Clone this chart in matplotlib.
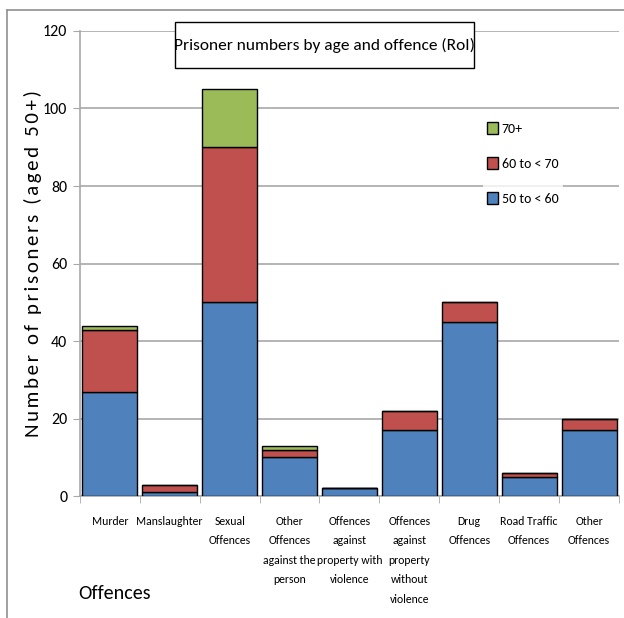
import matplotlib.pyplot as plt
import numpy as np
from matplotlib.lines import Line2D
from matplotlib.patches import Patch, Rectangle

plt.rcParams['font.family'] = ['Carlito', 'DejaVu Sans']

offences = ['Murder', 'Manslaughter', 'Sexual\nOffences',
            'Other\nOffences\nagainst the\nperson',
            'Offences\nagainst\nproperty with\nviolence',
            'Offences\nagainst\nproperty\nwithout\nviolence',
            'Drug\nOffences', 'Road Traffic\nOffences', 'Other\nOffences']
age_50_60 = [27, 1, 50, 10, 2, 17, 45, 5, 17]
age_60_70 = [16, 2, 40, 2, 0, 5, 5, 1, 3]
age_70 = [1, 0, 15, 1, 0, 0, 0, 0, 0]

blue = '#4F81BD'
red = '#C0504D'
green = '#9BBB59'
grey = '#a8a8a8'

fig = plt.figure(figsize=(6.24, 6.18), dpi=100)
ax = fig.add_axes([0.128, 0.197, 0.864, 0.753])

x = np.arange(len(offences))
w = 0.92
b1 = np.array(age_50_60)
b2 = b1 + np.array(age_60_70)
ax.bar(x, age_50_60, w, color=blue, edgecolor='black', linewidth=1, zorder=3)
ax.bar(x, age_60_70, w, bottom=b1, color=red, edgecolor='black', linewidth=1, zorder=3)
ax.bar(x, age_70, w, bottom=b2, color=green, edgecolor='black', linewidth=1, zorder=3)

ax.set_xlim(-0.5, len(offences) - 0.5)
ax.set_ylim(0, 120)
ax.set_yticks(range(0, 121, 20))
ax.yaxis.grid(True, color=grey, linewidth=1.2, zorder=0)
ax.tick_params(axis='y', labelsize=11.5, color=grey, length=5, pad=4)

ax.set_xticks(x)
ax.set_xticklabels(offences, fontsize=8.5, va='top', linespacing=1.95)
ax.tick_params(axis='x', length=0, pad=14)
ax.set_xticks(np.arange(-0.5, len(offences)), minor=True)
ax.tick_params(axis='x', which='minor', length=5, color=grey)

for s in ['top', 'right']:
    ax.spines[s].set_visible(False)
for s in ['left', 'bottom']:
    ax.spines[s].set_color(grey)
    ax.spines[s].set_linewidth(1.2)

# letter-spaced axis title
words = 'Number of prisoners (aged 50+)'.split(' ')
ylab = '\u200a \u200a'.join('\u200a'.join(wd) for wd in words)
ax.set_ylabel(ylab, fontsize=15)
ax.yaxis.set_label_coords(-0.07, 0.5)

fig.text(0.125, 0.04, 'Offences', fontsize=14.5, ha='left', va='center')

# title box sits over the top of the plot area
ax.add_patch(Rectangle((0.176, 0.920), 0.555, 0.099, transform=ax.transAxes,
                       facecolor='white', edgecolor='black', linewidth=1,
                       zorder=5, clip_on=False))
ax.text(0.4535, 0.968, 'Prisoner numbers by age and offence (RoI)', transform=ax.transAxes,
        fontsize=12.5, ha='center', va='center', zorder=6)

handles = [Patch(facecolor=green, edgecolor='black', label='70+'),
           Patch(facecolor=red, edgecolor='black', label='60 to < 70'),
           Patch(facecolor=blue, edgecolor='black', label='50 to < 60')]
leg = ax.legend(handles=handles, loc='upper left', bbox_to_anchor=(0.735, 0.828),
                frameon=True, fontsize=10, handlelength=0.75, handleheight=0.95,
                handletextpad=0.3, labelspacing=1.6, borderpad=0.3)
leg.get_frame().set_edgecolor('none')
leg.get_frame().set_facecolor('white')
leg.set_zorder(4)

# outer frame lines
fig.add_artist(Line2D([0.011, 1.0], [0.984, 0.984], color='#909090', linewidth=1.2))
fig.add_artist(Line2D([0.011, 0.011], [0.0, 0.984], color='#909090', linewidth=1.2))

fig.savefig('out.png', dpi=100)
